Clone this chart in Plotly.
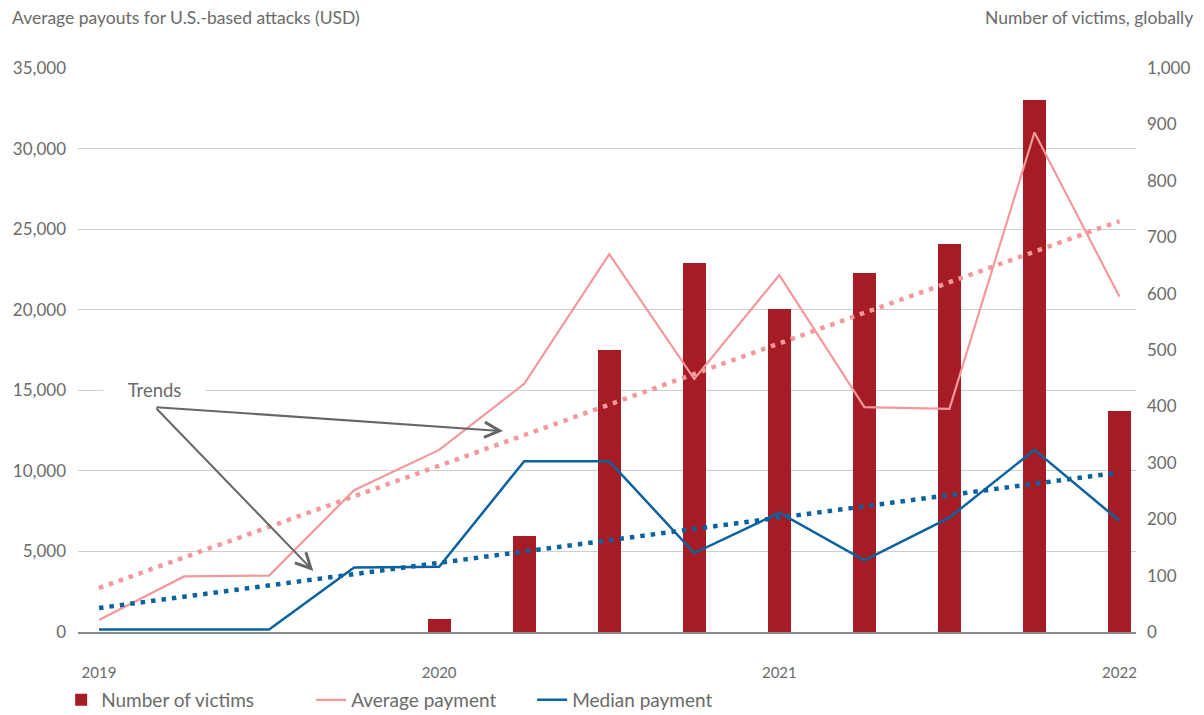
import plotly.graph_objects as go

# Quarterly series, 2019 Q1 .. 2022 Q1
quarters = ["2019 Q1", "2019 Q2", "2019 Q3", "2019 Q4",
            "2020 Q1", "2020 Q2", "2020 Q3", "2020 Q4",
            "2021 Q1", "2021 Q2", "2021 Q3", "2021 Q4",
            "2022 Q1"]
victims = [0, 0, 0, 0, 23, 170, 500, 654, 573, 637, 688, 943, 391]
average_payment = [750, 3450, 3500, 8800, 11300, 15400, 23450, 15700,
                   22150, 13950, 13850, 31000, 20800]
median_payment = [150, 150, 150, 4000, 4050, 10600, 10600, 4900,
                  7400, 4450, 7100, 11300, 6900]

# Linear trend lines (start and end values)
trend_x = [quarters[0], quarters[-1]]
average_trend = [2730, 25500]
median_trend = [1490, 9900]

# Bottom axis labels
year_ticks = [quarters[0], quarters[4], quarters[8], quarters[12]]
year_labels = ["2019", "2020", "2021", "2022"]

RED = "#A51C24"
PINK = "#F4989B"
BLUE = "#0A629E"
TEXT = "#6B6B6B"
GRID = "#CFCFCF"
AXIS = "#8A8A8A"
FONT = "Lato"

fig = go.Figure()

fig.add_trace(go.Bar(
    x=quarters, y=victims, name="Number of victims",
    marker=dict(color=RED, line=dict(width=0)), width=0.27,
    yaxis="y", legendwidth=205,
))
fig.add_trace(go.Scatter(
    x=quarters, y=average_payment, name="Average payment", mode="lines",
    line=dict(color=PINK, width=2.2), yaxis="y2", legendwidth=176,
))
fig.add_trace(go.Scatter(
    x=quarters, y=median_payment, name="Median payment", mode="lines",
    line=dict(color=BLUE, width=2.5), yaxis="y2",
))
fig.add_trace(go.Scatter(
    x=trend_x, y=average_trend, mode="lines", showlegend=False,
    line=dict(color=PINK, width=4.5, dash="4.5px,6px"), yaxis="y2",
    hoverinfo="skip",
))
fig.add_trace(go.Scatter(
    x=trend_x, y=median_trend, mode="lines", showlegend=False,
    line=dict(color=BLUE, width=4.5, dash="4.5px,6px"), yaxis="y2",
    hoverinfo="skip",
))

annotations = [
    dict(text="Average payouts for U.S.-based attacks (USD)", xref="paper", yref="paper",
         x=-0.0643, y=1.0887, xanchor="left", yanchor="middle", showarrow=False,
         font=dict(size=17.5, color=TEXT)),
    dict(text="Number of victims, globally", xref="paper", yref="paper",
         x=1.0558, y=1.0887, xanchor="right", yanchor="middle", showarrow=False,
         font=dict(size=17.5, color=TEXT)),
    dict(text="Trends", xref="x", yref="y2", x=0.65, y=15000, showarrow=False,
         xanchor="center", yanchor="middle", width=99, bgcolor="white",
         font=dict(size=18.5, color=TEXT)),
]
for tip_x, tip_y in [(4.75, 12470), (2.52, 3790)]:
    annotations.append(dict(
        text="", xref="x", yref="y2", x=tip_x, y=tip_y,
        axref="x", ayref="y2", ax=0.658, ay=13960,
        showarrow=True, arrowhead=5, arrowsize=1.5, arrowwidth=2,
        arrowcolor="#666666", standoff=0,
    ))

fig.update_layout(
    width=1204, height=715,
    margin=dict(l=78, r=68, t=68, b=83, autoexpand=False),
    paper_bgcolor="white", plot_bgcolor="white",
    font=dict(family=FONT, color=TEXT, size=17),
    bargap=0,
    showlegend=True,
    legend=dict(orientation="h", xref="container", yref="container",
                x=0.0508, xanchor="left", y=0.021, yanchor="middle",
                font=dict(size=19, color=TEXT), bgcolor="rgba(0,0,0,0)"),
    xaxis=dict(type="category", range=[-0.247, 12.194],
               tickvals=year_ticks, ticktext=year_labels,
               showgrid=False, showline=True, linecolor=AXIS, linewidth=2,
               ticks="", tickfont=dict(size=15, color=TEXT),
               ticklabelstandoff=26),
    yaxis=dict(side="right", range=[0, 1000], dtick=100, tickformat=",",
               showgrid=False, zeroline=False, ticks="",
               ticklabelstandoff=10, tickfont=dict(size=17, color=TEXT)),
    yaxis2=dict(overlaying="y", side="left", range=[0, 35000], dtick=5000,
                tickformat=",", showgrid=True, gridcolor=GRID, gridwidth=1,
                zeroline=False, ticks="", ticklabelstandoff=11,
                tickfont=dict(size=17, color=TEXT)),
    annotations=annotations,
    hovermode=False,
)

fig.write_html("out.html")
